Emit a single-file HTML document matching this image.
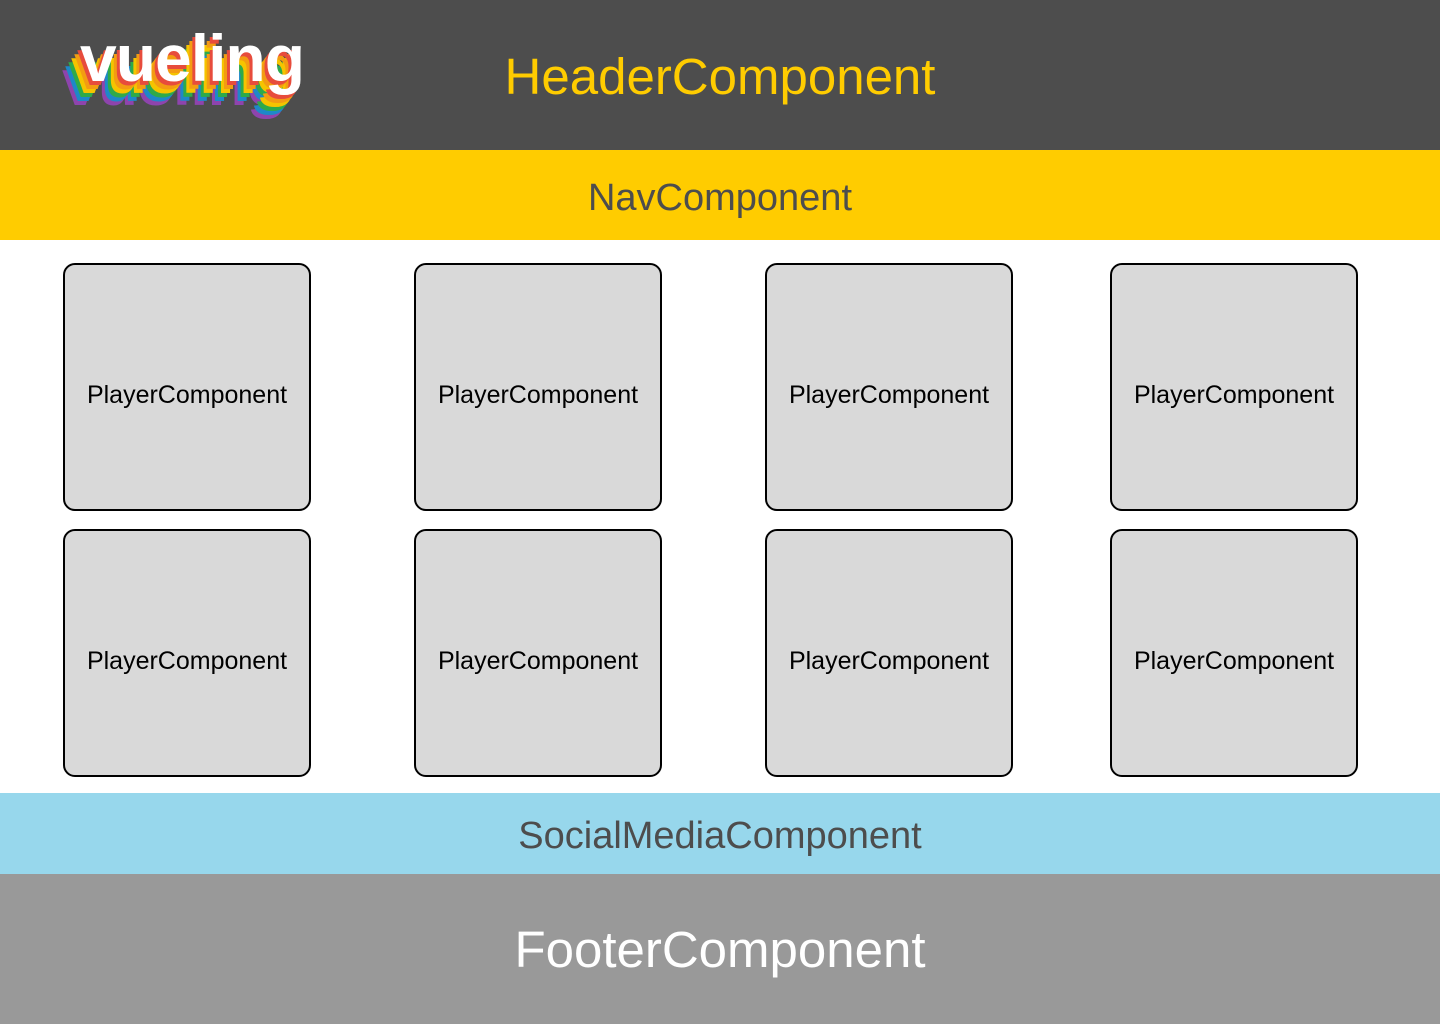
<!DOCTYPE html>
<html><head><meta charset="utf-8"><style>
body{margin:0;width:1440px;height:1024px;overflow:hidden;font-family:"Liberation Sans",sans-serif;position:relative}
.band{position:absolute;left:0;width:1440px;display:flex;align-items:center;justify-content:center}
.box{position:absolute;width:244px;height:244px;border:2px solid #000;border-radius:12px;background:#d9d9d9;display:flex;align-items:center;justify-content:center;font-size:25px;color:#000;box-sizing:content-box;padding-top:0}
.box span{position:relative;top:8px}
.logo{position:absolute;font-weight:bold;font-size:66px;letter-spacing:-1px}
</style></head><body>
<div class="band" style="top:0;height:150px;background:#4d4d4d"></div>
<div class="band" style="top:0;height:150px;color:#ffcc00;font-size:51px"><span style="position:relative;top:1px">HeaderComponent</span></div>
<div class="logo" style="left:62px;top:44px;color:#8e44ad">vueling</div>
<div class="logo" style="left:65px;top:40px;color:#1e88c8">vueling</div>
<div class="logo" style="left:68px;top:36px;color:#2eaa4a">vueling</div>
<div class="logo" style="left:71px;top:32px;color:#f5c400">vueling</div>
<div class="logo" style="left:74px;top:28px;color:#f39c12">vueling</div>
<div class="logo" style="left:77px;top:24px;color:#e74c3c">vueling</div>
<div class="logo" style="left:80px;top:20px;color:#fff">vueling</div>
<div class="band" style="top:150px;height:90px;background:#ffcc00;color:#4d4d4d;font-size:38px"><span style="position:relative;top:3px">NavComponent</span></div>
<div class="box" style="left:63px;top:263px"><span>PlayerComponent</span></div>
<div class="box" style="left:414px;top:263px"><span>PlayerComponent</span></div>
<div class="box" style="left:765px;top:263px"><span>PlayerComponent</span></div>
<div class="box" style="left:1110px;top:263px"><span>PlayerComponent</span></div>
<div class="box" style="left:63px;top:529px"><span>PlayerComponent</span></div>
<div class="box" style="left:414px;top:529px"><span>PlayerComponent</span></div>
<div class="box" style="left:765px;top:529px"><span>PlayerComponent</span></div>
<div class="box" style="left:1110px;top:529px"><span>PlayerComponent</span></div>
<div class="band" style="top:793px;height:81px;background:#97d7ec;color:#4d4d4d;font-size:38px"><span style="position:relative;top:3px">SocialMediaComponent</span></div>
<div class="band" style="top:874px;height:150px;background:#999;color:#fff;font-size:51px">FooterComponent</div>
</body></html>
